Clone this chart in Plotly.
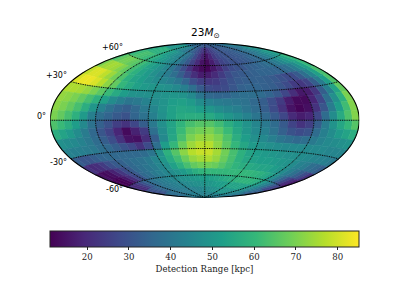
import plotly.graph_objects as go
from plotly.colors import sample_colorscale

W, H = 399, 299

lat_centers = [86.25, 78.75, 71.25, 63.75, 56.25, 48.75, 41.25, 33.75, 26.25, 18.75, 11.25, 3.75,
               -3.75, -11.25, -18.75, -26.25, -33.75, -41.25, -48.75, -56.25, -63.75, -71.25, -78.75, -86.25]
lon_centers = [-175, -165, -155, -145, -135, -125, -115, -105, -95, -85, -75, -65, -55, -45, -35, -25, -15, -5,
               5, 15, 25, 35, 45, 55, 65, 75, 85, 95, 105, 115, 125, 135, 145, 155, 165, 175]

range_rows = [
    [38, 38, 38, 38, 38, 38, 37, 37, 36, 36, 35, 35, 34, 33, 33, 32, 31, 31, 30, 30, 30, 31, 31, 31, 32, 32, 33, 33, 34, 34, 35, 35, 36, 36, 37, 38],
    [46, 48, 49, 50, 50, 50, 49, 47, 45, 43, 41, 39, 37, 34, 31, 28, 25, 22, 20, 22, 25, 27, 29, 30, 31, 31, 32, 32, 33, 34, 35, 36, 38, 40, 42, 44],
    [52, 56, 58, 58, 58, 57, 55, 52, 50, 48, 46, 44, 41, 38, 34, 28, 23, 18, 15, 19, 24, 27, 29, 30, 30, 31, 32, 32, 34, 35, 37, 39, 41, 44, 47, 50],
    [57, 61, 63, 63, 62, 60, 58, 55, 52, 50, 47, 45, 42, 37, 32, 26, 20, 15, 13, 17, 22, 26, 28, 30, 30, 31, 32, 33, 35, 36, 38, 41, 44, 47, 50, 53],
    [63, 67, 69, 69, 67, 65, 62, 58, 54, 51, 48, 45, 40, 35, 29, 22, 16, 13, 12, 16, 20, 25, 28, 30, 31, 33, 34, 35, 36, 38, 39, 42, 46, 50, 54, 59],
    [70, 74, 75, 74, 71, 67, 62, 58, 54, 51, 48, 45, 42, 38, 33, 27, 21, 17, 17, 20, 24, 28, 31, 32, 33, 34, 35, 35, 35, 35, 36, 38, 42, 47, 53, 60],
    [78, 81, 81, 78, 74, 69, 64, 58, 54, 52, 49, 47, 45, 43, 40, 35, 29, 25, 23, 24, 27, 30, 32, 33, 34, 34, 33, 32, 30, 28, 28, 32, 38, 45, 53, 63],
    [81, 83, 83, 81, 77, 72, 67, 60, 56, 53, 51, 50, 49, 48, 46, 43, 38, 32, 28, 27, 28, 31, 34, 35, 35, 34, 33, 31, 28, 24, 23, 26, 33, 42, 52, 64],
    [76, 76, 75, 73, 70, 66, 61, 56, 52, 49, 48, 48, 48, 49, 50, 49, 46, 40, 36, 35, 35, 37, 38, 38, 37, 35, 32, 27, 21, 16, 17, 23, 33, 43, 54, 67],
    [73, 72, 70, 67, 63, 58, 53, 47, 43, 40, 41, 44, 47, 49, 52, 53, 51, 47, 44, 42, 41, 40, 39, 36, 33, 29, 24, 17, 13, 13, 19, 27, 38, 48, 58, 70],
    [72, 70, 67, 63, 57, 50, 44, 39, 35, 33, 36, 41, 45, 49, 53, 55, 54, 52, 50, 47, 45, 43, 40, 37, 33, 28, 22, 15, 12, 14, 22, 31, 42, 52, 62, 71],
    [70, 67, 63, 58, 51, 43, 38, 35, 32, 30, 35, 39, 43, 48, 53, 56, 57, 57, 56, 53, 50, 47, 44, 40, 36, 32, 27, 20, 17, 19, 27, 37, 47, 56, 64, 71],
    [64, 61, 57, 52, 46, 39, 34, 30, 25, 22, 27, 33, 41, 48, 54, 59, 63, 65, 65, 62, 57, 53, 49, 45, 41, 37, 32, 26, 22, 25, 33, 42, 49, 55, 60, 65],
    [57, 54, 51, 47, 42, 36, 31, 26, 19, 13, 18, 24, 38, 47, 54, 61, 67, 69, 70, 66, 61, 55, 50, 46, 43, 39, 34, 30, 28, 30, 37, 43, 47, 51, 54, 57],
    [48, 47, 46, 44, 41, 37, 33, 29, 22, 15, 14, 21, 33, 46, 55, 63, 70, 73, 73, 70, 64, 57, 52, 48, 46, 43, 40, 38, 36, 38, 41, 44, 46, 47, 48, 49],
    [44, 43, 43, 42, 41, 38, 36, 33, 30, 27, 22, 28, 38, 52, 60, 68, 74, 77, 77, 72, 66, 60, 55, 51, 49, 48, 47, 46, 46, 46, 46, 46, 46, 45, 45, 45],
    [33, 31, 31, 33, 35, 36, 36, 36, 36, 36, 37, 40, 48, 58, 65, 72, 77, 79, 79, 75, 69, 63, 58, 54, 52, 51, 50, 49, 48, 48, 47, 46, 45, 44, 43, 41],
    [22, 20, 21, 24, 29, 32, 34, 36, 38, 39, 41, 45, 50, 56, 62, 68, 73, 75, 76, 73, 68, 63, 58, 55, 53, 52, 52, 51, 50, 49, 47, 44, 42, 38, 36, 33],
    [15, 13, 14, 18, 23, 28, 32, 36, 38, 40, 42, 45, 48, 53, 58, 63, 67, 69, 69, 68, 65, 62, 59, 57, 56, 55, 54, 54, 52, 50, 47, 43, 39, 34, 29, 22],
    [12, 11, 12, 16, 21, 27, 31, 36, 38, 41, 43, 45, 47, 49, 51, 54, 57, 59, 60, 60, 60, 60, 60, 60, 60, 60, 59, 58, 56, 53, 48, 42, 35, 28, 22, 17],
    [22, 20, 21, 25, 30, 34, 37, 39, 41, 42, 44, 45, 47, 48, 49, 50, 51, 52, 52, 53, 54, 55, 56, 57, 58, 59, 59, 59, 58, 56, 52, 47, 42, 35, 28, 24],
    [30, 29, 30, 32, 34, 36, 38, 40, 41, 42, 43, 44, 45, 46, 47, 48, 48, 49, 50, 50, 51, 52, 52, 53, 54, 54, 54, 54, 54, 52, 49, 46, 43, 39, 35, 32],
    [37, 37, 37, 38, 38, 39, 40, 40, 41, 41, 42, 42, 43, 43, 44, 45, 45, 46, 47, 47, 48, 48, 49, 49, 49, 50, 50, 50, 49, 48, 47, 46, 44, 42, 40, 38],
    [41, 41, 41, 41, 41, 42, 42, 42, 42, 43, 43, 43, 43, 44, 44, 44, 44, 44, 45, 45, 45, 45, 45, 45, 45, 45, 45, 45, 44, 44, 44, 44, 43, 43, 42, 42],
]

lat_grid = [60, 30, 0, -30, -60]
lon_grid = [-120, -60, 0, 60, 120]
color_ticks = [20, 30, 40, 50, 60, 70, 80]
lat_labels = ["+60°", "+30°", "0°", "-30°", "-60°"]
title_text = "23<i>M</i><sub>⊙</sub>"
color_title = "Detection Range [kpc]"
z_min, z_max = 11.1, 85.1


def cell_ring(lon0, lon1, lat0, lat1):
    steps = 4
    lat0, lat1 = max(lat0, -89.99), min(lat1, 89.99)
    lon0, lon1 = max(lon0, -179.99), min(lon1, 179.99)
    lons = [lon0 + (lon1 - lon0) * i / steps for i in range(steps + 1)]
    ring = [(lon, lat1) for lon in lons] + [(lon, lat0) for lon in reversed(lons)]
    ring.append(ring[0])
    return ring


fig = go.Figure()
for r, lat in enumerate(lat_centers):
    for c, lon in enumerate(lon_centers):
        value = range_rows[r][c]
        colour = sample_colorscale("Viridis", [(value - z_min) / (z_max - z_min)])[0]
        ring = cell_ring(lon - 5, lon + 5, lat - 3.75, lat + 3.75)
        fig.add_trace(go.Scattergeo(
            lon=[p[0] for p in ring], lat=[p[1] for p in ring], mode="lines", fill="toself",
            fillcolor=colour, line=dict(color=colour, width=0.6), hoverinfo="skip", showlegend=False))

fig.add_trace(go.Scattergeo(
    lon=[lon for _ in lat_centers for lon in lon_centers],
    lat=[lat for lat in lat_centers for _ in lon_centers],
    mode="markers", hoverinfo="skip", showlegend=False,
    marker=dict(
        size=1, opacity=0, color=[v for row in range_rows for v in row],
        colorscale="Viridis", cmin=z_min, cmax=z_max, showscale=True,
        colorbar=dict(
            orientation="h", lenmode="pixels", len=309, thicknessmode="pixels", thickness=16,
            x=204.5 / W, xanchor="center", y=1 - 231 / H, yanchor="top", xpad=0, ypad=0,
            outlinecolor="#222", outlinewidth=1, tickvals=color_ticks, ticks="outside", ticklen=3,
            tickwidth=0.8, tickcolor="#222",
            tickfont=dict(family="DejaVu Serif", size=8.6, color="#222"),
            title=dict(text=color_title, side="bottom",
                       font=dict(family="DejaVu Serif", size=8.6, color="#222")),
        ),
    ),
))

all_lons = list(range(-180, 181, 5))
grid_line = dict(color="black", width=1, dash="1px,0.8px")
for lat in lat_grid:
    fig.add_trace(go.Scattergeo(
        lon=[max(min(v, 179.9), -179.9) for v in all_lons], lat=[lat] * len(all_lons), mode="lines",
        line=grid_line, hoverinfo="skip", showlegend=False))
all_lats = list(range(-90, 91, 5))
for lon in lon_grid:
    fig.add_trace(go.Scattergeo(
        lon=[lon] * len(all_lats), lat=all_lats, mode="lines",
        line=grid_line, hoverinfo="skip", showlegend=False))
for lon in (-179.95, 179.95):
    fig.add_trace(go.Scattergeo(
        lon=[lon] * len(all_lats), lat=all_lats, mode="lines",
        line=dict(color="black", width=1.1), hoverinfo="skip", showlegend=False))

ann = [
    dict(x=205 / W, y=1 - 33 / H, text=title_text, xanchor="center", yanchor="middle",
         font=dict(family="DejaVu Sans", size=10.5, color="black")),
]
label_pos = [(125, 47), (69, 75), (48, 117), (69, 162), (125, 189)]
for text, (px, py) in zip(lat_labels, label_pos):
    ann.append(dict(x=px / W, y=1 - py / H, text=text, xanchor="right", yanchor="middle",
                    font=dict(family="DejaVu Sans", size=8, color="black")))
for a in ann:
    a.update(xref="paper", yref="paper", showarrow=False, xshift=0, yshift=0)

fig.update_layout(
    width=W, height=H, margin=dict(l=0, r=0, t=0, b=0), paper_bgcolor="white", showlegend=False,
    annotations=ann,
    geo=dict(
        domain=dict(x=[50 / W, 359.5 / W], y=[1 - 197.5 / H, 1 - 43 / H]),
        projection=dict(type="hammer"), bgcolor="white",
        showland=False, showocean=False, showlakes=False, showrivers=False, showcountries=False,
        showcoastlines=False, showsubunits=False, showframe=False,
        lataxis=dict(showgrid=False), lonaxis=dict(showgrid=False),
    ),
)
fig.write_html("out.html", config={"displayModeBar": False}, post_script="document.body.style.margin='0';")
